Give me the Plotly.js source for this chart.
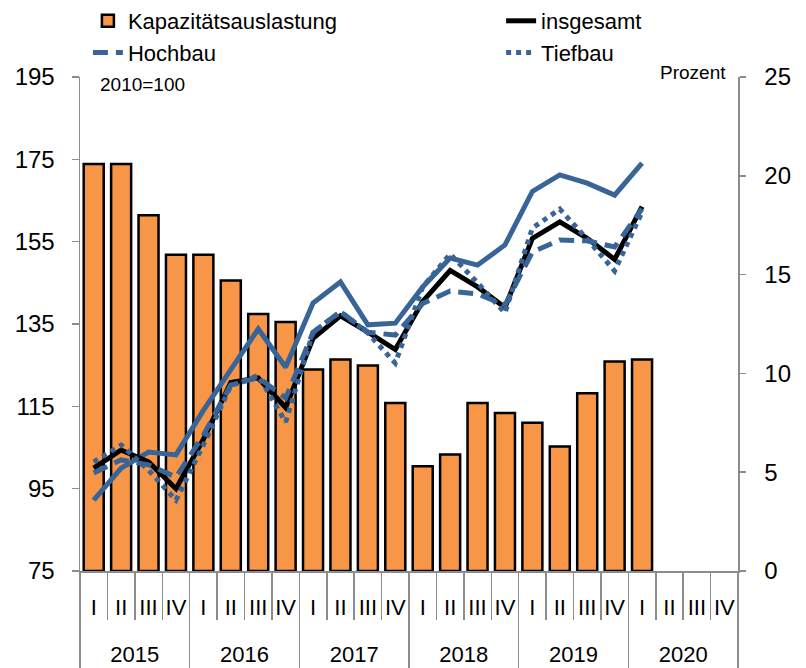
<!DOCTYPE html>
<html>
<head>
<meta charset="utf-8">
<script src="https://cdn.plot.ly/plotly-3.0.1.min.js"></script>
<style>
  html, body { margin: 0; padding: 0; background: #fff; }
  #chart { width: 806px; height: 668px; }
</style>
</head>
<body>
<div id="chart"></div>
<script>
const years = ['2015', '2016', '2017', '2018', '2019', '2020'];
const quarterNames = ['I', 'II', 'III', 'IV'];

// Kapazitätsauslastung in Prozent (rechte Achse)
const kapazitaet = [20.6, 20.6, 18.0, 16.0, 16.0, 14.7, 13.0, 12.6,
  10.2, 10.7, 10.4, 8.5, 5.3, 5.9, 8.5, 8.0, 7.5, 6.3, 9.0, 10.6, 10.7, null, null, null];

// Indizes 2010=100 (linke Achse)
const insgesamt = [100.0, 104.4, 101.5, 95.0, 107.0, 120.8, 121.9, 114.7,
  131.5, 137.0, 133.0, 128.8, 140.5, 148.0, 144.0, 139.0, 155.8, 159.8, 155.8, 150.7, 163.5, null, null, null];
const hochbau = [98.8, 102.0, 100.8, 97.8, 108.0, 120.2, 122.0, 117.0,
  133.0, 138.0, 133.0, 132.3, 140.0, 143.0, 142.3, 139.6, 152.5, 155.4, 155.2, 153.7, 163.0, null, null, null];
const tiefbau = [101.5, 105.6, 99.5, 92.2, 105.6, 120.0, 122.5, 111.2,
  133.0, 138.0, 132.8, 125.5, 144.0, 152.0, 145.0, 137.7, 158.3, 162.9, 155.6, 147.9, 162.2, null, null, null];
const ohneLegende = [92.2, 100.0, 103.9, 103.2, 114.0, 124.0, 133.8, 124.5,
  140.1, 145.2, 134.8, 135.2, 144.0, 151.0, 149.3, 154.2, 167.2, 171.2, 169.2, 166.3, 174.1, null, null, null];

const keys = [];
const qLabels = [];
years.forEach(y => quarterNames.forEach(q => { keys.push(y + ' ' + q); qLabels.push(q); }));

const n = keys.length;
const qBounds = [];
for (let i = 0; i <= n; i++) qBounds.push(i - 0.5);
const yearBounds = [];
for (let i = 0; i <= years.length; i++) yearBounds.push(i * 4 - 0.5);
const yearMids = years.map((y, i) => i * 4 + 1.5);

const font = 'Liberation Sans, Arial, sans-serif';
const blue = '#386498';
const grey = '#8c8c8c';

const data = [
  {
    type: 'bar', x: keys, y: kapazitaet, yaxis: 'y', name: 'Kapazitätsauslastung',
    legend: 'legend', legendgroup: 'a',
    marker: {color: '#f79646', line: {color: '#000', width: 2.5}}
  },
  {
    type: 'scatter', mode: 'lines', x: keys, y: ohneLegende, yaxis: 'y2', name: 'Bau',
    showlegend: false, line: {color: blue, width: 5}
  },
  {
    type: 'scatter', mode: 'lines', x: keys, y: insgesamt, yaxis: 'y2', name: 'insgesamt',
    legend: 'legend2', legendgroup: 'b',
    line: {color: '#000', width: 5}
  },
  {
    type: 'scatter', mode: 'lines', x: keys, y: hochbau, yaxis: 'y2', name: 'Hochbau',
    legend: 'legend', legendgroup: 'c',
    line: {color: blue, width: 5, dash: '15px,8px'}
  },
  {
    type: 'scatter', mode: 'lines', x: keys, y: tiefbau, yaxis: 'y2', name: 'Tiefbau',
    legend: 'legend2', legendgroup: 'd',
    line: {color: blue, width: 5, dash: 'dot'}
  },
  // Hilfsspuren, damit die Zusatzachsen (Jahre, Trennstriche) gezeichnet werden
  {
    type: 'scatter', mode: 'lines', x: yearMids, y: years.map(() => null), xaxis: 'x2', yaxis: 'y',
    showlegend: false, hoverinfo: 'skip'
  },
  {
    type: 'scatter', mode: 'lines', x: yearBounds, y: yearBounds.map(() => null), xaxis: 'x3', yaxis: 'y',
    showlegend: false, hoverinfo: 'skip'
  }
];

const legendBase = {
  orientation: 'v', xref: 'paper', xanchor: 'left', yref: 'container', y: 1.008, yanchor: 'top',
  font: {family: font, size: 22}, tracegroupgap: 0, bgcolor: 'rgba(0,0,0,0)'
};

const layout = {
  width: 806, height: 668,
  margin: {l: 80, r: 68, t: 77, b: 97},
  paper_bgcolor: '#fff', plot_bgcolor: '#fff',
  font: {family: font, size: 22, color: '#000'},
  bargap: 0.27,
  showlegend: true,
  legend: Object.assign({}, legendBase, {x: 0.012}),
  legend2: Object.assign({}, legendBase, {x: 0.64}),
  xaxis: {
    type: 'category', range: [-0.5, n - 0.5], tickmode: 'array', tickvals: keys, ticktext: qLabels,
    ticks: '', showgrid: false, zeroline: false, showline: true, linecolor: grey, linewidth: 1.5,
    ticklabelstandoff: 16, tickfont: {size: 22}
  },
  xaxis2: {
    overlaying: 'x', anchor: 'y', side: 'bottom', type: 'linear', range: [-0.5, n - 0.5],
    tickmode: 'array', tickvals: yearMids, ticktext: years, ticks: '',
    ticklabelstandoff: 68, tickfont: {size: 22},
    minor: {tickmode: 'array', tickvals: qBounds, ticks: 'outside', ticklen: 48, tickcolor: grey, tickwidth: 1.5},
    showgrid: false, zeroline: false, showline: false
  },
  xaxis3: {
    overlaying: 'x', anchor: 'y', side: 'bottom', type: 'linear', range: [-0.5, n - 0.5],
    tickmode: 'array', tickvals: yearBounds, ticks: 'outside', ticklen: 97, tickcolor: grey, tickwidth: 1.5,
    showticklabels: false, showgrid: false, zeroline: false, showline: false
  },
  yaxis: {
    side: 'right', range: [0, 25], tickmode: 'array', tickvals: [0, 5, 10, 15, 20, 25],
    ticks: 'outside', ticklen: 6, tickcolor: grey, tickwidth: 1.5,
    showline: true, linecolor: grey, linewidth: 1.5, showgrid: false, zeroline: false,
    ticklabelstandoff: 14, tickfont: {size: 24}
  },
  yaxis2: {
    overlaying: 'y', side: 'left', anchor: 'x', range: [75, 195], tickmode: 'array',
    tickvals: [75, 95, 115, 135, 155, 175, 195],
    ticks: 'outside', ticklen: 7, tickcolor: grey, tickwidth: 1.5,
    showline: true, linecolor: grey, linewidth: 1.5, showgrid: false, zeroline: false,
    ticklabelstandoff: 12, tickfont: {size: 24}
  },
  annotations: [
    {text: '2010=100', xref: 'paper', yref: 'paper', x: 0.027, y: 0.985, xanchor: 'left', yanchor: 'middle',
      showarrow: false, font: {size: 19}},
    {text: 'Prozent', xref: 'paper', yref: 'paper', x: 0.985, y: 1.01, xanchor: 'right', yanchor: 'middle',
      showarrow: false, font: {size: 19}}
  ]
};

Plotly.newPlot('chart', data, layout, {displayModeBar: false, staticPlot: true});
</script>
</body>
</html>
